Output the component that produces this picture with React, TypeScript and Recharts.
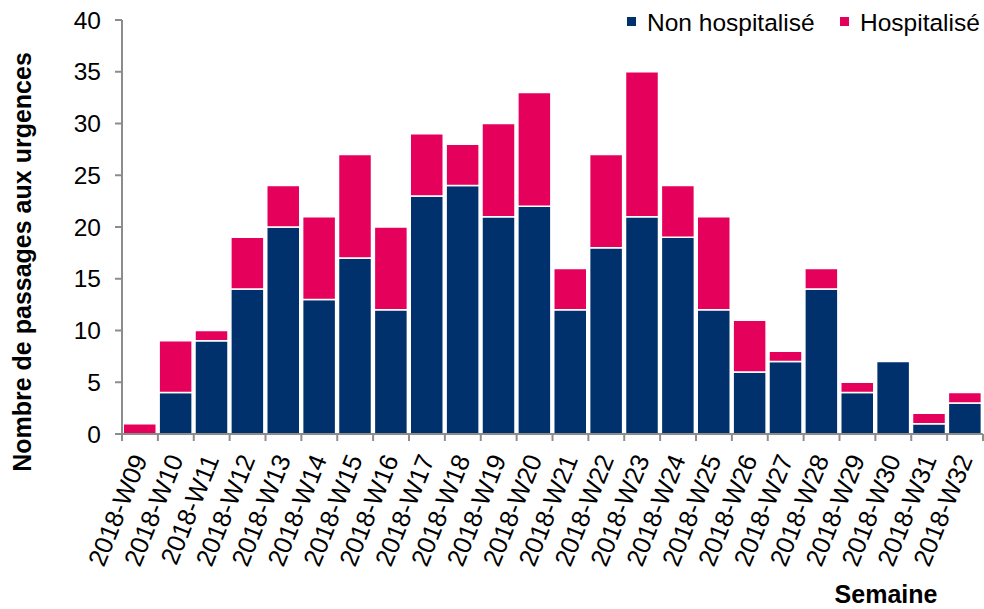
import { Bar, BarChart, XAxis, YAxis } from "recharts";

// weekly ER visits, split by outcome
const WEEKS = [
  "2018-W09", "2018-W10", "2018-W11", "2018-W12", "2018-W13", "2018-W14",
  "2018-W15", "2018-W16", "2018-W17", "2018-W18", "2018-W19", "2018-W20",
  "2018-W21", "2018-W22", "2018-W23", "2018-W24", "2018-W25", "2018-W26",
  "2018-W27", "2018-W28", "2018-W29", "2018-W30", "2018-W31", "2018-W32",
];
const NON_HOSPITALISE = [0, 4, 9, 14, 20, 13, 17, 12, 23, 24, 21, 22, 12, 18, 21, 19, 12, 6, 7, 14, 4, 7, 1, 3];
const HOSPITALISE = [1, 5, 1, 5, 4, 8, 10, 8, 6, 4, 9, 11, 4, 9, 14, 5, 9, 5, 1, 2, 1, 0, 1, 1];
const Y_TICKS = [0, 5, 10, 15, 20, 25, 30, 35, 40];

const NAVY = "#00316c";
const PINK = "#e4005b";
const AXIS = "#8c8c8c";
const FONT = "'Liberation Sans', Arial, sans-serif";

const data = WEEKS.map((week, i) => ({
  week,
  non: NON_HOSPITALISE[i],
  hosp: HOSPITALISE[i],
}));

// label rotated, tick marks drawn on the category boundaries (half a band either side)
function WeekTick({ x, y, payload, index }: any) {
  const half = payload.offset ?? 0;
  const last = index === WEEKS.length - 1;
  return (
    <g>
      <line x1={x - half} x2={x - half} y1={y} y2={y + 7} stroke={AXIS} strokeWidth={2} />
      {last && (
        <line x1={x + half} x2={x + half} y1={y} y2={y + 7} stroke={AXIS} strokeWidth={2} />
      )}
      <text
        x={0}
        y={0}
        transform={`translate(${x + 8},${y + 25}) rotate(-68)`}
        textAnchor="end"
        fontSize={25.5}
        fontFamily={FONT}
        fill="#000"
      >
        {payload.value}
      </text>
    </g>
  );
}

export default function App() {
  return (
    <div
      style={{
        position: "absolute",
        left: 0,
        top: 0,
        width: 984,
        height: 609,
        background: "#fff",
        fontFamily: FONT,
      }}
    >
      <BarChart
        width={984}
        height={609}
        data={data}
        margin={{ top: 20, right: 1, left: 0, bottom: 0 }}
        barCategoryGap={1.25}
      >
        <XAxis
          dataKey="week"
          interval={0}
          height={175}
          tickLine={false}
          tickSize={0}
          tickMargin={0}
          stroke={AXIS}
          strokeWidth={2}
          tick={<WeekTick />}
        />
        <YAxis
          domain={[0, 40]}
          ticks={Y_TICKS}
          width={122}
          tickSize={7}
          tickMargin={14}
          stroke={AXIS}
          strokeWidth={2}
          tick={{ fontSize: 24.5, fill: "#000", fontFamily: FONT }}
        />
        <Bar
          dataKey="non"
          stackId="a"
          fill={NAVY}
          stroke="#fff"
          strokeWidth={1.5}
          isAnimationActive={false}
        />
        <Bar
          dataKey="hosp"
          stackId="a"
          fill={PINK}
          stroke="#fff"
          strokeWidth={1.5}
          isAnimationActive={false}
        />
      </BarChart>
      <svg
        width={984}
        height={609}
        style={{ position: "absolute", left: 0, top: 0, pointerEvents: "none" }}
        fontFamily={FONT}
      >
        <rect x={627} y={17} width={9} height={9} fill={NAVY} />
        <text x={647} y={31} fontSize={24.5} fill="#000">Non hospitalisé</text>
        <rect x={840} y={17} width={9} height={9} fill={PINK} />
        <text x={860} y={31} fontSize={24.5} fill="#000">Hospitalisé</text>
        <text
          transform="translate(31,262) rotate(-90)"
          textAnchor="middle"
          fontSize={25}
          fontWeight="bold"
          fill="#000"
        >
          Nombre de passages aux urgences
        </text>
        <text x={886} y={603} textAnchor="middle" fontSize={25} fontWeight="bold" fill="#000">
          Semaine
        </text>
      </svg>
    </div>
  );
}
